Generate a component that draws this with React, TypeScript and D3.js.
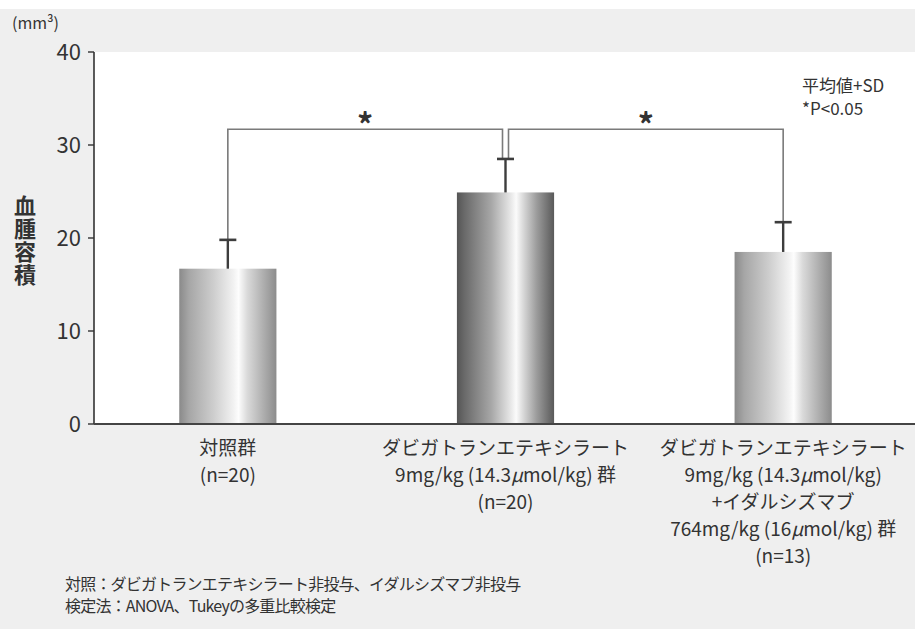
import React from "react";
import * as d3 from "d3";

const categories = ["ctrl", "dabi", "dabiIda"];
const categoryLabels: string[][] = [
  ["対照群", "(n=20)"],
  ["ダビガトランエテキシラート", "9mg/kg (14.3μmol/kg) 群", "(n=20)"],
  ["ダビガトランエテキシラート", "9mg/kg (14.3μmol/kg)", "+イダルシズマブ", "764mg/kg (16μmol/kg) 群", "(n=13)"],
];
const means = [16.7, 24.9, 18.5];
const sds = [3.1, 3.6, 3.2];
const yTicks = [0, 10, 20, 30, 40];
const sigPairs: [number, number][] = [[0, 1], [1, 2]];
const sigLevel = 31.7;
const yLabel = "血腫容積";
const unitLabel = "(mm³)";
const legendLines = ["平均値+SD", "*P<0.05"];
const footnotes = [
  "対照：ダビガトランエテキシラート非投与、イダルシズマブ非投与",
  "検定法：ANOVA、Tukeyの多重比較検定",
];

const W = 915;
const H = 629;
const FONT = "'Noto Sans CJK JP', 'Noto Sans', sans-serif";

function MuText({ text }: { text: string }) {
  const parts = text.split("μ");
  return (
    <>
      {parts.map((p, i) => (
        <React.Fragment key={i}>
          {i > 0 && <tspan fontStyle="italic">μ</tspan>}
          <tspan>{p}</tspan>
        </React.Fragment>
      ))}
    </>
  );
}

export default function App() {
  const y = d3.scaleLinear().domain([0, 40]).range([424, 52]);
  const x = d3
    .scaleBand<number>()
    .domain(categories.map((_, i) => i))
    .range([89, 922])
    .paddingInner(0.65)
    .paddingOuter(0.325);
  const bw = x.bandwidth();
  const cx = (i: number) => (x(i) as number) + bw / 2;
  const axisX = 94;
  const capW = 17;

  return (
    <svg
      width={W}
      height={H}
      style={{ position: "absolute", left: 0, top: 0 }}
      fontFamily={FONT}
    >
      <defs>
        <linearGradient id="gLight" x1="0" x2="1" y1="0" y2="0">
          <stop offset="0" stopColor="#8a8a8a" />
          <stop offset="0.1" stopColor="#a6a6a6" />
          <stop offset="0.35" stopColor="#cdcdcd" />
          <stop offset="0.56" stopColor="#f2f2f2" />
          <stop offset="0.61" stopColor="#fdfdfd" />
          <stop offset="0.7" stopColor="#dadada" />
          <stop offset="0.86" stopColor="#b0b0b0" />
          <stop offset="1" stopColor="#8c8c8c" />
        </linearGradient>
        <linearGradient id="gDark" x1="0" x2="1" y1="0" y2="0">
          <stop offset="0" stopColor="#555555" />
          <stop offset="0.08" stopColor="#6a6a6a" />
          <stop offset="0.35" stopColor="#a6a6a6" />
          <stop offset="0.55" stopColor="#e6e6e6" />
          <stop offset="0.61" stopColor="#fbfbfb" />
          <stop offset="0.68" stopColor="#dadada" />
          <stop offset="0.82" stopColor="#9c9c9c" />
          <stop offset="1" stopColor="#595959" />
        </linearGradient>
      </defs>
      <rect x={0} y={0} width={W} height={H} fill="#efefef" />
      <rect x={0} y={0} width={W} height={9} fill="#ffffff" />
      <rect x={axisX} y={y(40)} width={W - axisX} height={y(0) - y(40)} fill="#ffffff" />

      {/* unit */}
      <text x={12} y={29} fontSize={16} fill="#333">{unitLabel}</text>

      {/* y label (vertical) */}
      <text
        x={25}
        y={195}
        fontSize={22}
        fontWeight={700}
        fill="#333"
        style={{ writingMode: "vertical-rl" as any }}
        letterSpacing={1}
      >
        {yLabel}
      </text>

      {/* y axis */}
      <line x1={axisX} x2={axisX} y1={y(40)} y2={y(0)} stroke="#333" strokeWidth={1.6} />
      {yTicks.map((t) => (
        <g key={t}>
          <line x1={axisX - 6} x2={axisX} y1={y(t)} y2={y(t)} stroke="#333" strokeWidth={1.4} />
          <text x={81} y={y(t) + 8} fontSize={22} fill="#333" textAnchor="end">
            {t}
          </text>
        </g>
      ))}

      {/* bars */}
      {means.map((m, i) => (
        <rect
          key={i}
          x={x(i)}
          y={y(m)}
          width={bw}
          height={y(0) - y(m)}
          fill={i === 1 ? "url(#gDark)" : "url(#gLight)"}
        />
      ))}

      {/* x baseline */}
      <line x1={axisX} x2={W} y1={y(0)} y2={y(0)} stroke="#444" strokeWidth={2} />

      {/* significance brackets */}
      {sigPairs.map(([a, b], k) => {
        const xa = cx(a) + (a === 1 ? 3 : 0);
        const xb = cx(b) - (b === 1 ? 3 : 0);
        const yb = y(sigLevel);
        return (
          <g key={k}>
            <path
              d={`M${xa},${y(means[a] + sds[a])} V${yb} H${xb} V${y(means[b] + sds[b])}`}
              fill="none"
              stroke="#7a7a7a"
              strokeWidth={1.6}
            />
            <text x={(xa + xb) / 2} y={yb + 8} fontSize={32} fontWeight={700} fill="#333" textAnchor="middle">
              *
            </text>
          </g>
        );
      })}

      {/* error bars */}
      {means.map((m, i) => (
        <g key={i} stroke="#3d3d3d">
          <line x1={cx(i)} x2={cx(i)} y1={y(m)} y2={y(m + sds[i])} strokeWidth={2.4} />
          <line x1={cx(i) - capW / 2} x2={cx(i) + capW / 2} y1={y(m + sds[i])} y2={y(m + sds[i])} strokeWidth={2.6} />
        </g>
      ))}

      {/* legend */}
      {legendLines.map((l, i) => (
        <text key={i} x={802} y={92 + i * 23} fontSize={17} fill="#333">
          {l}
        </text>
      ))}

      {/* x labels */}
      {categoryLabels.map((lines, i) =>
        lines.map((l, j) => (
          <text key={`${i}-${j}`} x={cx(i)} y={455 + j * 27} fontSize={19} fill="#333" textAnchor="middle">
            <MuText text={l} />
          </text>
        ))
      )}

      {/* footnotes */}
      {footnotes.map((f, i) => (
        <text key={i} x={65} y={590 + i * 22} fontSize={16} letterSpacing={-0.8} fill="#333">
          {f}
        </text>
      ))}
    </svg>
  );
}
